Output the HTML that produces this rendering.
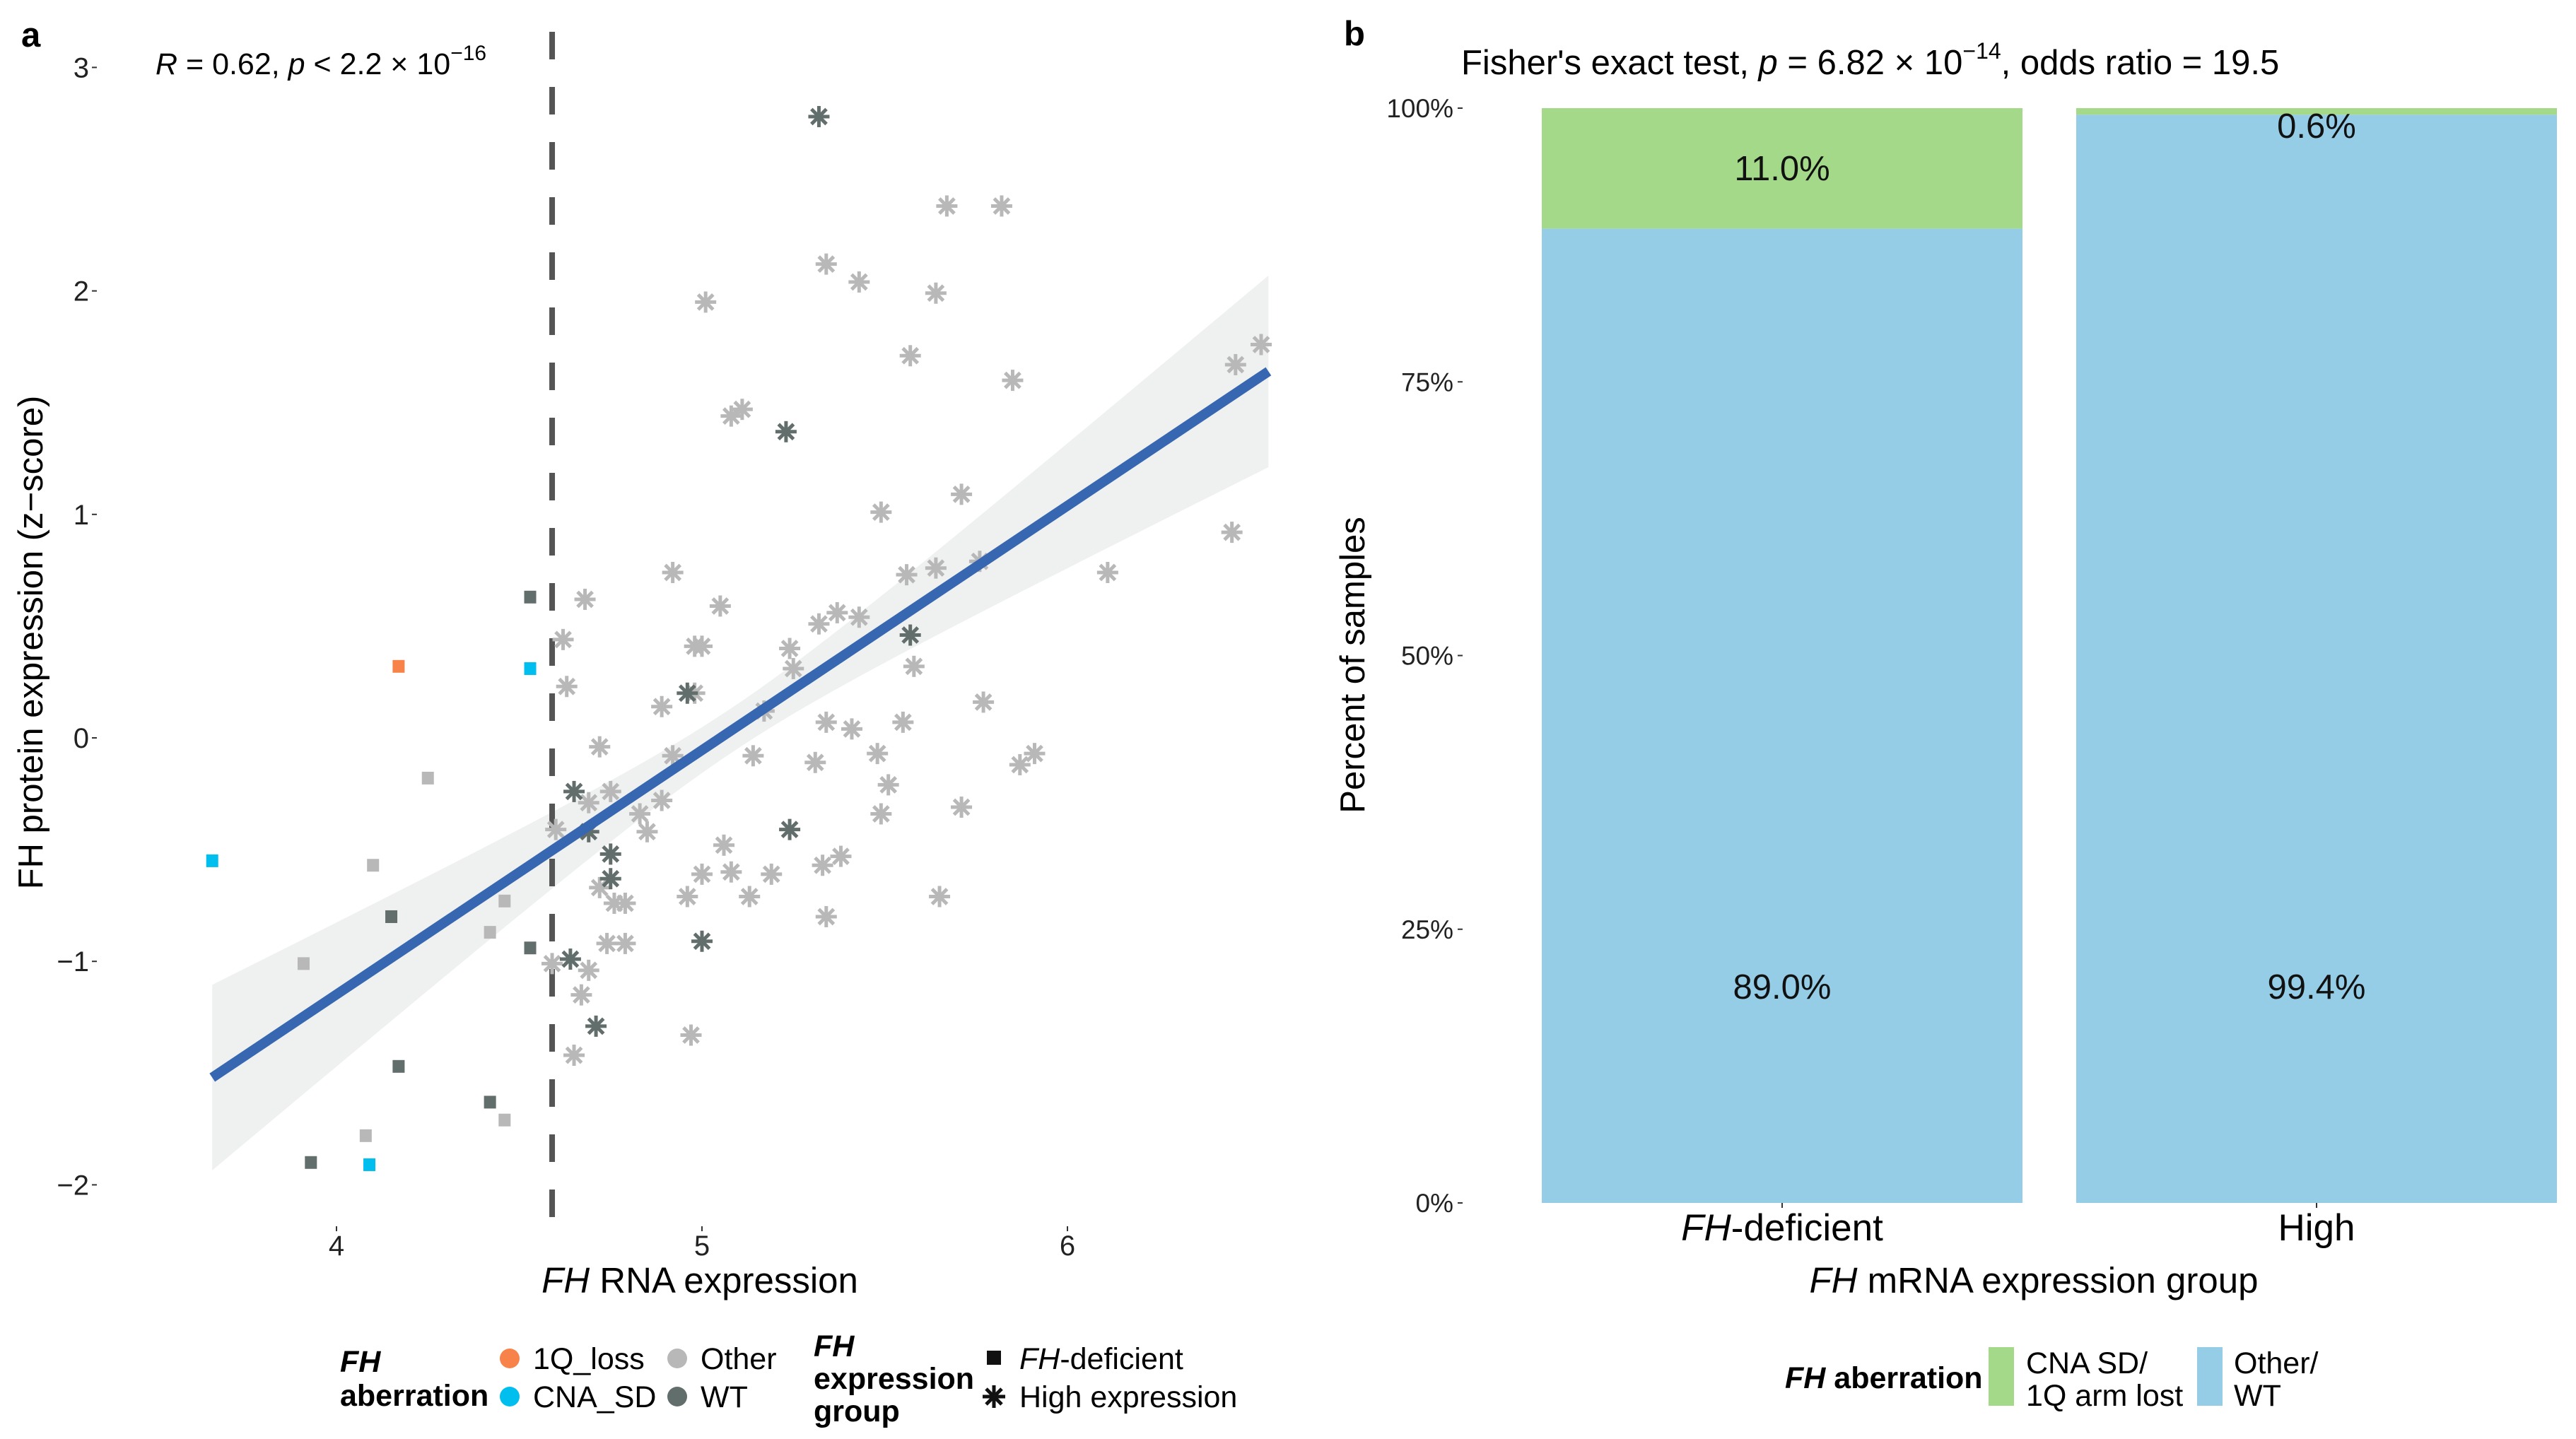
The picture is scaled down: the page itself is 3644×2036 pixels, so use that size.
<!DOCTYPE html>
<html><head><meta charset="utf-8"><style>
html,body{margin:0;padding:0;background:#fff;}
svg{display:block;font-family:"Liberation Sans",Arial,sans-serif;}
</style></head><body>
<svg id="chart" width="3644" height="2036" viewBox="0 0 3644 2036" xmlns="http://www.w3.org/2000/svg">
<g id="pa"></g>
<g id="pb"></g>
</svg>
<script>
// ---- Panel a data ----
const sqX = [4.17,4.53,3.66,4.09,4.53,4.15,4.53,4.17,4.42,3.93,4.25,4.10,4.46,4.42,3.91,4.46,4.08];
const sqY = [0.32,0.31,-0.55,-1.91,0.63,-0.80,-0.94,-1.47,-1.63,-1.90,-0.18,-0.57,-0.73,-0.87,-1.01,-1.71,-1.78];
const sqAb = ["1Q_loss","CNA_SD","CNA_SD","CNA_SD","WT","WT","WT","WT","WT","WT","Other","Other","Other","Other","Other","Other","Other"];
const wtHiX = [5.32,5.23,5.57,4.96,4.65,4.69,4.75,4.75,5.24,5.00,4.64,4.71];
const wtHiY = [2.78,1.37,0.46,0.20,-0.24,-0.42,-0.52,-0.63,-0.41,-0.91,-0.99,-1.29];
const otHiX = [5.67,5.82,5.34,5.43,5.01,5.64,5.57,6.46,6.53,5.85,5.08,5.11,5.71,5.49,6.45,4.92,6.11,5.56,5.64,5.76,4.68,5.05,5.32,5.37,5.43,4.62,4.98,5.00,5.24,5.25,5.58,4.63,4.98,4.89,5.17,5.77,5.34,5.41,5.55,4.72,4.92,5.14,5.31,5.48,5.87,5.91,5.51,4.75,4.69,4.89,4.83,5.49,5.71,4.60,4.85,5.06,5.38,5.33,5.00,5.08,5.19,4.72,4.96,5.13,5.65,4.76,4.79,5.34,4.74,4.79,4.59,4.69,4.67,4.97,4.65];
const otHiY = [2.38,2.38,2.12,2.04,1.95,1.99,1.71,1.67,1.76,1.60,1.44,1.47,1.09,1.01,0.92,0.74,0.74,0.73,0.76,0.79,0.62,0.59,0.51,0.56,0.54,0.44,0.41,0.41,0.40,0.31,0.32,0.23,0.20,0.14,0.12,0.16,0.07,0.04,0.07,-0.04,-0.08,-0.08,-0.11,-0.07,-0.12,-0.07,-0.21,-0.24,-0.29,-0.28,-0.34,-0.34,-0.31,-0.41,-0.42,-0.48,-0.53,-0.57,-0.61,-0.60,-0.61,-0.67,-0.71,-0.71,-0.71,-0.74,-0.74,-0.80,-0.92,-0.92,-1.01,-1.04,-1.15,-1.33,-1.42];
const fitX = [3.66,6.55];
const fitY = [-1.52,1.64];
const ciMinHalf = [0.10];
const ciCenterX = [5.08];
const ciCurv = [0.0805];
const cutoff = 4.59;
const xTicks = [4,5,6];
const yTicks = [-2,-1,0,1,2,3];
// ---- Panel b data ----
const groups = ["FH-deficient","High"];
const greenPct = [11.0,0.6];
const bluePct = [89.0,99.4];
const bTicks = [0,25,50,75,100];

const NS="http://www.w3.org/2000/svg";
function mk(parent,tag,attrs,text){const e=document.createElementNS(NS,tag);for(const k in attrs)e.setAttribute(k,attrs[k]);if(text!==undefined)e.textContent=text;parent.appendChild(e);return e;}
const pa=document.getElementById('pa'), pb=document.getElementById('pb');
const X=v=>476+(v-4)*517;
const Y=v=>1044-v*316.2;
const colAb={"1Q_loss":"#f7834a","CNA_SD":"#00bfef","Other":"#b8b8b8","WT":"#626e6c"};

// ribbon (hyperbolic CI)
const slope=(fitY[1]-fitY[0])/(fitX[1]-fitX[0]);
const fitAt=x=>fitY[0]+slope*(x-fitX[0]);
const halfAt=x=>Math.sqrt(ciMinHalf[0]*ciMinHalf[0]+ciCurv[0]*(x-ciCenterX[0])**2);
let up=[],lo=[];
for(let i=0;i<=60;i++){const x=fitX[0]+(fitX[1]-fitX[0])*i/60;up.push(`${X(x)},${Y(fitAt(x)+halfAt(x))}`);lo.unshift(`${X(x)},${Y(fitAt(x)-halfAt(x))}`);}
let rib=mk(pa,'polygon',{points:up.concat(lo).join(' '),fill:'#eff1f0'});


let cl=mk(pa,'line',{x1:X(cutoff),x2:X(cutoff),y1:45,y2:1733,stroke:'#555',"stroke-width":8,"stroke-dasharray":"39 39"});


for(let i=0;i<sqX.length;i++){
 let r=mk(pa,'rect',{x:X(sqX[i])-8.5,y:Y(sqY[i])-9,width:17,height:18,fill:colAb[sqAb[i]]});
 
 
}
function star(x,y,c,name){
 const g=mk(pa,'g',{stroke:c,"stroke-width":5,"stroke-linecap":"butt"});
 
 
 const r=15;
 for(let k=0;k<4;k++){const a=k*Math.PI/4;mk(g,'line',{x1:x-r*Math.sin(a),y1:y-r*Math.cos(a),x2:x+r*Math.sin(a),y2:y+r*Math.cos(a)});}
}
for(let i=0;i<otHiX.length;i++) star(X(otHiX[i]),Y(otHiY[i]),'#b8b8b8','point-high-other');
for(let i=0;i<wtHiX.length;i++) star(X(wtHiX[i]),Y(wtHiY[i]),'#626e6c','point-high-wt');
let fl=mk(pa,'line',{x1:X(fitX[0]),y1:Y(fitY[0]),x2:X(fitX[1]),y2:Y(fitY[1]),stroke:'#3767b1',"stroke-width":14});


for(const t of yTicks){
 let tk=mk(pa,'line',{x1:130,x2:137,y1:Y(t),y2:Y(t),stroke:'#333',"stroke-width":2});
 
 
 let tl=mk(pa,'text',{x:126,y:Y(t)+14,"text-anchor":"end","font-size":40,fill:'#222'},t<0?'\u2212'+(-t):String(t));
 
 
}
for(const t of xTicks){
 let tk=mk(pa,'line',{x1:X(t),x2:X(t),y1:1735,y2:1742,stroke:'#333',"stroke-width":2});
 
 
 let tl=mk(pa,'text',{x:X(t),y:1776,"text-anchor":"middle","font-size":40,fill:'#222'},String(t));
 
 
}

// ---- Panel b ----
const BY=v=>1702-v*15.49;
const barX=[2181,2937], barW=680;
for(let i=0;i<groups.length;i++){
 let b=mk(pb,'rect',{x:barX[i],y:BY(bluePct[i]),width:barW,height:BY(0)-BY(bluePct[i]),fill:'#95cde6'});
 
 
 let g=mk(pb,'rect',{x:barX[i],y:BY(100),width:barW,height:BY(bluePct[i])-BY(100),fill:'#a5d98a'});
 
 
 let l1=mk(pb,'text',{x:barX[i]+barW/2,y:i==0?BY(100-greenPct[i]/2)+17:BY(100)+42,"text-anchor":"middle","font-size":49,fill:'#111'},greenPct[i].toFixed(1)+'%');
 
 
 let l2=mk(pb,'text',{x:barX[i]+barW/2,y:1413,"text-anchor":"middle","font-size":49,fill:'#111'},bluePct[i].toFixed(1)+'%');
 
 
 let tk=mk(pb,'line',{x1:barX[i]+barW/2,x2:barX[i]+barW/2,y1:1702,y2:1709,stroke:'#333',"stroke-width":2});
 
 
}
for(const t of bTicks){
 let tk=mk(pb,'line',{x1:2062,x2:2069,y1:BY(t),y2:BY(t),stroke:'#333',"stroke-width":2});
 
 
 let tl=mk(pb,'text',{x:2056,y:BY(t)+13,"text-anchor":"end","font-size":37,fill:'#222'},t+'%');
 
 
}
</script>
<svg style="position:absolute;left:0;top:0" width="3644" height="2036" xmlns="http://www.w3.org/2000/svg" font-family="Liberation Sans, Arial, sans-serif">
<text x="30" y="66" font-size="49" font-weight="bold">a</text>
<text x="220" y="105" font-size="43"><tspan font-style="italic">R</tspan> = 0.62, <tspan font-style="italic">p</tspan> &lt; 2.2 × 10<tspan font-size="30" dy="-20">−16</tspan></text>
<text transform="translate(60,909) rotate(-90)" text-anchor="middle" font-size="49">FH protein expression (z−score)</text>
<text x="990" y="1829" text-anchor="middle" font-size="51"><tspan font-style="italic">FH</tspan> RNA expression</text>
<g font-size="43">
<text x="481" y="1941" font-weight="bold" font-style="italic">FH</text>
<text x="481" y="1989" font-weight="bold">aberration</text>
<circle cx="721" cy="1922" r="14" fill="#f7834a"/><text x="754" y="1937">1Q_loss</text>
<circle cx="721" cy="1976" r="14" fill="#00bfef"/><text x="754" y="1991">CNA_SD</text>
<circle cx="958" cy="1922" r="14" fill="#b8b8b8"/><text x="991" y="1937">Other</text>
<circle cx="958" cy="1976" r="14" fill="#626e6c"/><text x="991" y="1991">WT</text>
</g>
<g font-size="43">
<text x="1151" y="1919" font-weight="bold" font-style="italic">FH</text>
<text x="1151" y="1965" font-weight="bold">expression</text>
<text x="1151" y="2011" font-weight="bold">group</text>
<rect x="1396" y="1911" width="20" height="20" fill="#111"/>
<text x="1442" y="1937"><tspan font-style="italic">FH</tspan>-deficient</text>
<g stroke="#111" stroke-width="5"><line x1="1406" y1="1960" x2="1406" y2="1992"/><line x1="1390" y1="1976" x2="1422" y2="1976"/><line x1="1395" y1="1965" x2="1417" y2="1987"/><line x1="1417" y1="1965" x2="1395" y2="1987"/></g>
<text x="1442" y="1991">High expression</text>
</g>
<text x="1901" y="64" font-size="49" font-weight="bold">b</text>
<text x="2067" y="105" font-size="49">Fisher's exact test, <tspan font-style="italic">p</tspan> = 6.82 × 10<tspan font-size="32" dy="-22">−14</tspan><tspan dy="22">, odds ratio = 19.5</tspan></text>
<text transform="translate(1930,941) rotate(-90)" text-anchor="middle" font-size="49">Percent of samples</text>
<text x="2521" y="1755" text-anchor="middle" font-size="53"><tspan font-style="italic">FH</tspan>-deficient</text>
<text x="3277" y="1755" text-anchor="middle" font-size="53">High</text>
<text x="2877" y="1829" text-anchor="middle" font-size="51"><tspan font-style="italic">FH</tspan> mRNA expression group</text>
<g font-size="43">
<text x="2525" y="1964" font-weight="bold"><tspan font-style="italic">FH</tspan> aberration</text>
<rect x="2813" y="1906" width="36" height="83" fill="#a5d98a"/>
<text x="2866" y="1943">CNA SD/</text><text x="2866" y="1989">1Q arm lost</text>
<rect x="3108" y="1906" width="36" height="83" fill="#95cde6"/>
<text x="3160" y="1943">Other/</text><text x="3160" y="1989">WT</text>
</g>
</svg>
</body></html>
